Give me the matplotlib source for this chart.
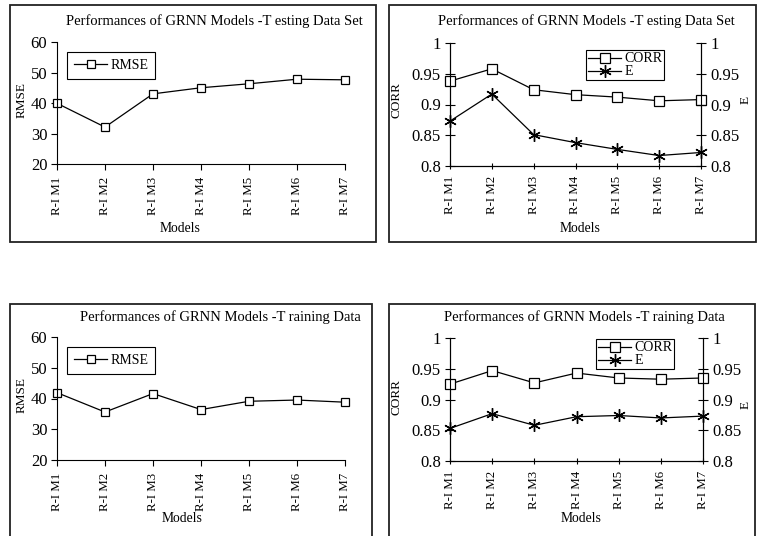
import matplotlib
matplotlib.use("Agg")
import matplotlib.pyplot as plt
from matplotlib.patches import Rectangle

plt.rcParams['font.family'] = ['Liberation Serif', 'DejaVu Serif']

W, H = 764, 536

models = ["R-I M1", "R-I M2", "R-I M3", "R-I M4", "R-I M5", "R-I M6", "R-I M7"]

# testing data set
rmse_test = [39.9, 32.1, 43.0, 45.0, 46.3, 47.8, 47.6]
corr_test = [0.938, 0.958, 0.924, 0.916, 0.912, 0.906, 0.908]
e_test = [0.873, 0.917, 0.851, 0.838, 0.827, 0.817, 0.822]

# training data
rmse_train = [41.9, 35.6, 41.6, 36.4, 39.1, 39.5, 38.8]
corr_train = [0.925, 0.947, 0.927, 0.943, 0.935, 0.933, 0.935]
e_train = [0.853, 0.877, 0.858, 0.872, 0.874, 0.870, 0.873]

title_test = "Performances of GRNN Models -T esting Data Set"
title_train = "Performances of GRNN Models -T raining Data"

STAR = (6, 2, 0)

fig = plt.figure(figsize=(W / 100, H / 100), dpi=100)


def px_axes(x0, y0, x1, y1):
    # box given in pixels from the top-left corner
    return fig.add_axes([x0 / W, 1 - y1 / H, (x1 - x0) / W, (y1 - y0) / H])


def frame(x0, y0, x1, y1):
    fig.add_artist(Rectangle((x0 / W, 1 - y1 / H), (x1 - x0) / W, (y1 - y0) / H,
                             transform=fig.transFigure, fill=False,
                             edgecolor="#222222", linewidth=1.3))


def ftext(x, y, s, **kw):
    fig.text(x / W, 1 - y / H, s, ha="center", va="center", **kw)


def style_x(ax, direction):
    ax.set_xlim(0, len(models) - 1)
    ax.set_xticks(range(len(models)))
    ax.set_xticklabels(models, rotation=90, fontsize=9.3)
    ax.tick_params(axis="x", direction=direction, length=4, width=0.8, pad=5)
    ax.spines["top"].set_visible(False)
    for s in ax.spines.values():
        s.set_linewidth(0.8)


def legend(ax, handles, labels, x0, y0, pad, spacing, hh=0.7):
    leg = ax.legend(handles, labels, loc="upper left",
                    bbox_to_anchor=(x0 / W, 1 - y0 / H), bbox_transform=fig.transFigure,
                    borderaxespad=0, fancybox=False, framealpha=1, edgecolor="black",
                    fontsize=10, handlelength=2.4, handletextpad=0.2, handleheight=hh,
                    labelspacing=spacing, borderpad=pad)
    leg.get_frame().set_linewidth(0.8)


def rmse_panel(box, fr, vals, title, title_xy, models_xy, ylab_xy, leg_xy):
    frame(*fr)
    ax = px_axes(*box)
    ln, = ax.plot(range(len(models)), vals, color="black", lw=0.9, marker="s",
                  ms=6, mfc="white", mec="black", mew=0.9, clip_on=False)
    ax.set_ylim(20, 60)
    ax.set_yticks([20, 30, 40, 50, 60])
    ax.tick_params(axis="y", direction="out", length=4, width=0.8, labelsize=12, pad=3)
    ax.spines["right"].set_visible(False)
    style_x(ax, "out")
    ftext(*title_xy, title, fontsize=10.5)
    ftext(*models_xy, "Models", fontsize=9.8)
    ftext(*ylab_xy, "RMSE", fontsize=9.5, rotation=90)
    legend(ax, [ln], ["RMSE"], *leg_xy, pad=0.5, spacing=0.0)


def corr_panel(box, fr, corr, e, title, title_xy, models_xy, ylab_xy, elab_xy, leg_xy):
    frame(*fr)
    ax = px_axes(*box)
    ax2 = ax.twinx()
    x = range(len(models))
    l1, = ax.plot(x, corr, color="black", lw=0.9, marker="s", ms=7,
                  mfc="white", mec="black", mew=0.9, clip_on=False, zorder=3)
    l2, = ax2.plot(x, e, color="black", lw=0.9, marker=STAR, ms=9,
                   mec="black", mew=1.0, clip_on=False)
    ticks = [0.8, 0.85, 0.9, 0.95, 1.0]
    labels = ["0.8", "0.85", "0.9", "0.95", "1"]
    for a in (ax, ax2):
        a.set_ylim(0.8, 1.0)
        a.set_yticks(ticks)
        a.set_yticklabels(labels)
        a.tick_params(axis="y", direction="inout", length=7, width=0.8, labelsize=12, pad=3)
        style_x(a, "inout")
    ax2.tick_params(axis="x", length=0)
    ftext(*title_xy, title, fontsize=10.5)
    ftext(*models_xy, "Models", fontsize=9.8)
    ftext(*ylab_xy, "CORR", fontsize=9.5, rotation=90)
    ftext(*elab_xy, "E", fontsize=9.5, rotation=90)
    legend(ax2, [l1, l2], ["CORR", "E"], *leg_xy, pad=0.15, spacing=0.0, hh=0.5)


rmse_panel((57, 42, 345, 164), (10, 5, 376, 242), rmse_test, title_test,
           (214, 21), (180, 229), (22, 100), (67, 52))
corr_panel((450, 43, 701, 166), (389, 5, 756, 242), corr_test, e_test, title_test,
           (586, 21), (580, 229), (396, 100), (746, 100), (586, 50))
rmse_panel((57, 337, 345, 460), (10, 304, 372, 545), rmse_train, title_train,
           (220, 317), (182, 518), (22, 395), (67, 347))
corr_panel((450, 338, 703, 461), (389, 304, 755, 545), corr_train, e_train, title_train,
           (584, 317), (581, 518), (396, 397), (746, 405), (596, 339))

fig.savefig("out.png", dpi=100)
